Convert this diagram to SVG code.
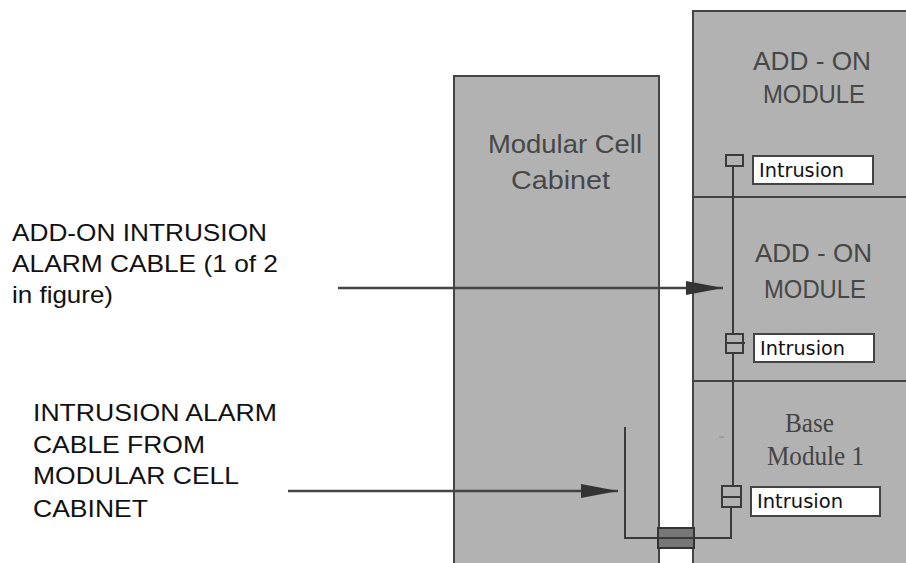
<svg xmlns="http://www.w3.org/2000/svg" width="906" height="563" viewBox="0 0 906 563">
<defs>
<style>
.panel{fill:#b2b2b2;stroke:#444;stroke-width:2}
.cable{stroke:#3a3a3a;stroke-width:2;fill:none}
.conn{fill:#b2b2b2;stroke:#3a3a3a;stroke-width:2}
.lbl{fill:#fff;stroke:#444;stroke-width:2}
.mod{font-family:"Liberation Sans",Arial,sans-serif;font-size:25px;fill:#474747}
.base{font-family:"Liberation Serif","Times New Roman",serif;font-size:27px;fill:#444}
.intr{font-family:"DejaVu Sans",sans-serif;font-size:19px;fill:#111}
.note{font-family:"Liberation Sans",Arial,sans-serif;font-size:24px;fill:#111}
.arrow{stroke:#444;stroke-width:2.5;fill:none}
</style>
<marker id="ah" markerWidth="38" markerHeight="14" refX="37" refY="7" orient="auto" markerUnits="userSpaceOnUse">
<path d="M0,0 L37,7 L0,14 Z" fill="#333"/>
</marker>
</defs>
<rect width="906" height="563" fill="#fff"/>

<g id="cabinet">
<rect class="panel" x="454" y="76" width="205" height="500"/>
<text class="mod" x="488" y="153" font-size="27" textLength="154" lengthAdjust="spacingAndGlyphs">Modular Cell</text>
<text class="mod" x="511" y="189" font-size="27" textLength="99" lengthAdjust="spacingAndGlyphs">Cabinet</text>
</g>

<g id="addon-module-1">
<rect class="panel" x="693" y="11" width="230" height="186"/>
<text class="mod" x="753" y="70" textLength="118" lengthAdjust="spacingAndGlyphs">ADD - ON</text>
<text class="mod" x="763" y="103" textLength="102" lengthAdjust="spacingAndGlyphs">MODULE</text>
<rect class="lbl" x="753" y="156" width="120" height="28"/>
<text class="intr" x="759" y="177" textLength="85" lengthAdjust="spacingAndGlyphs">Intrusion</text>
</g>

<g id="addon-module-2">
<rect class="panel" x="693" y="197" width="230" height="184"/>
<text class="mod" x="755" y="262" textLength="117" lengthAdjust="spacingAndGlyphs">ADD - ON</text>
<text class="mod" x="764" y="298" textLength="102" lengthAdjust="spacingAndGlyphs">MODULE</text>
<rect class="lbl" x="754" y="334" width="120" height="28"/>
<text class="intr" x="760" y="355" textLength="85" lengthAdjust="spacingAndGlyphs">Intrusion</text>
</g>

<g id="base-module-1">
<rect class="panel" x="693" y="381" width="230" height="200"/>
<text class="base" x="785" y="432" textLength="49" lengthAdjust="spacingAndGlyphs">Base</text>
<text class="base" x="767" y="465" textLength="97" lengthAdjust="spacingAndGlyphs">Module 1</text>
<rect class="lbl" x="751" y="487" width="129" height="29"/>
<text class="intr" x="757" y="508" textLength="86" lengthAdjust="spacingAndGlyphs">Intrusion</text>
<line x1="719" y1="437" x2="724" y2="437" stroke="#888" stroke-width="1"/>
</g>

<g id="connectors">
<line class="cable" x1="733" y1="166" x2="733" y2="334"/>
<line class="cable" x1="733" y1="353" x2="733" y2="486"/>
<polyline class="cable" points="731,507 731,538 625,538 625,427"/>
<rect class="conn" x="726" y="155" width="17" height="11"/>
<rect class="conn" x="726" y="334" width="17" height="19"/>
<line class="cable" x1="726" y1="343" x2="745" y2="343"/>
<rect class="conn" x="722" y="486" width="19" height="21"/>
<line class="cable" x1="722" y1="497" x2="741" y2="497"/>
<rect x="658" y="528" width="36" height="20" fill="#777" stroke="#333" stroke-width="2"/>
<line class="cable" x1="658" y1="538" x2="694" y2="538"/>
<line class="arrow" x1="338" y1="288" x2="723" y2="288" marker-end="url(#ah)"/>
<line class="arrow" x1="288" y1="491" x2="618" y2="491" marker-end="url(#ah)"/>
</g>

<g id="notes">
<text class="note" x="12" y="241" textLength="255" lengthAdjust="spacingAndGlyphs">ADD-ON INTRUSION</text>
<text class="note" x="12" y="272" textLength="266" lengthAdjust="spacingAndGlyphs">ALARM CABLE (1 of 2</text>
<text class="note" x="12" y="303" textLength="101" lengthAdjust="spacingAndGlyphs">in figure)</text>
<text class="note" x="33" y="421" textLength="244" lengthAdjust="spacingAndGlyphs">INTRUSION ALARM</text>
<text class="note" x="33" y="453" textLength="172" lengthAdjust="spacingAndGlyphs">CABLE FROM</text>
<text class="note" x="33" y="484" textLength="206" lengthAdjust="spacingAndGlyphs">MODULAR CELL</text>
<text class="note" x="33" y="517" textLength="115" lengthAdjust="spacingAndGlyphs">CABINET</text>
</g>
</svg>
